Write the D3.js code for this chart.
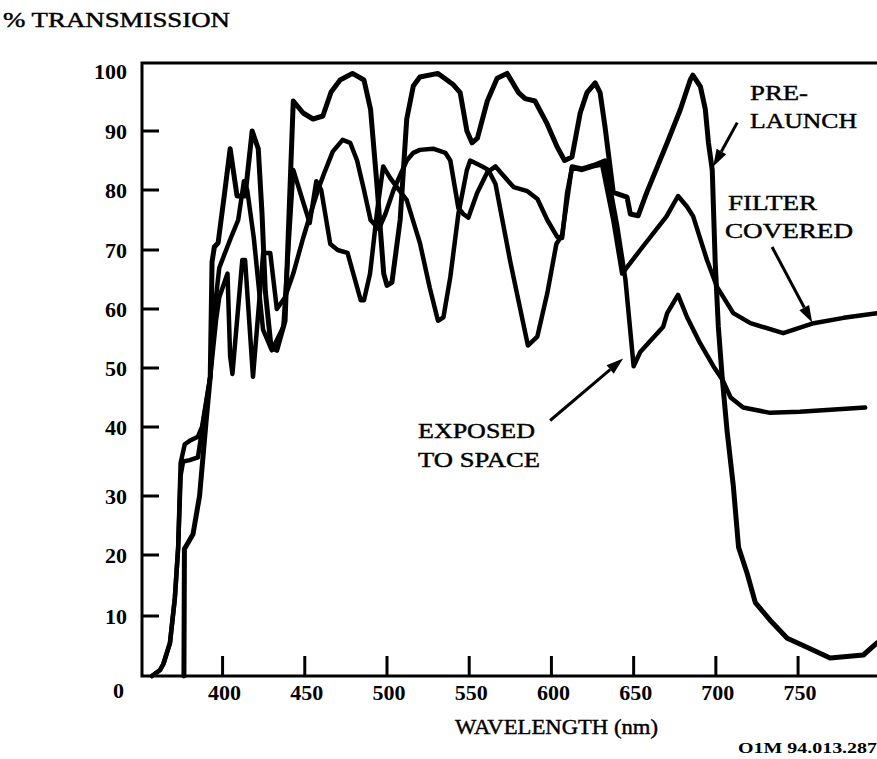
<!DOCTYPE html>
<html lang="en">
<head>
    <meta charset="UTF-8">
    <title>% Transmission vs Wavelength</title>
    <style>
        body { margin: 0; background: #fff; }
        svg { display: block; }
        text {
            font-family: "Liberation Serif", "Times New Roman", serif;
            fill: #000;
        }
        .tick-label { font-size: 22px; font-weight: bold; }
        .lbl { stroke: #000; stroke-width: 0.45px; }
        .curve {
            fill: none;
            stroke: #000;
            stroke-linejoin: round;
            stroke-linecap: round;
        }
    </style>
</head>
<body>
    <svg width="877" height="759"></svg>
    <script src="https://d3js.org/d3.v7.min.js"></script>
    <script>
        // [wavelength nm, % transmission]
        var preLaunch = [
            [376.5, 0], [376.8, 21], [382, 23.5], [386, 30], [390, 41], [392.5, 48.5], [393.6, 68],
            [395, 70.5], [397.3, 71.2], [401, 79], [404.6, 87], [408.8, 79], [413.7, 79], [418, 90],
            [421.7, 87], [424, 76], [426, 63], [429.5, 53.5], [433, 53], [438, 58], [443, 95],
            [449, 93], [455, 92], [461, 92.5], [466, 96.5], [471.5, 98.5], [479, 99.6], [486, 98.5],
            [490, 93.6], [494, 80.5], [498, 66], [500, 64], [503, 64.5], [508, 75], [512, 92],
            [516, 97.5], [520, 99], [531, 99.6], [540, 97.8], [544.5, 96.4], [548.6, 90], [551.7, 88],
            [555, 88.8], [561, 95], [567, 98.8], [573, 99.6], [580, 96.4], [584, 95.4], [590, 95],
            [597, 91.4], [603.5, 87.3], [608, 85], [612.5, 85.6], [617.5, 93], [621.6, 96.4],
            [626.6, 98], [629.6, 96.4], [632.6, 90.7], [637.6, 79.6], [646, 78.8], [648, 76],
            [652.7, 75.7], [658, 79.6], [670.4, 88], [678.3, 93.5], [684.4, 98.5], [686, 99.3],
            [690.6, 97.4], [693.6, 93.6], [695.5, 88], [697.8, 83.4], [699.6, 68], [701.5, 57],
            [703.8, 48.6], [706.8, 39.5], [710.6, 31.5], [713.8, 21.3], [719, 17], [724, 12.2],
            [733, 9.3], [743.4, 6.3], [755.4, 4.8], [769.5, 3], [789.7, 3.5], [798, 5.5]
        ];

        var filterCovered = [
            [357, 0], [362, 1], [364, 2], [368, 5.5], [371, 13], [373, 21.3], [374.5, 34.8],
            [377, 37.5], [380, 38], [385, 38.6], [387.5, 40], [392.5, 48.5], [396, 58], [398, 62],
            [403, 66], [404.6, 52], [406, 49], [412, 68.3], [413.7, 68.3], [418.5, 48.5],
            [424.7, 69.5], [429, 69.5], [433, 60], [438, 62], [443, 66], [449, 72], [454, 76.5],
            [458, 80], [462, 83], [467, 86.5], [473, 88.5], [477.6, 88], [481.8, 85], [486, 80],
            [490, 75], [495, 73.5], [499, 76], [504, 80], [508, 82.5], [512, 85], [516, 86.3],
            [520, 86.8], [528, 87], [535.5, 86.3], [538.5, 85], [543.4, 77], [546.4, 76],
            [549.5, 75.4], [554.8, 79.5], [561, 83], [566, 84], [569, 83], [577, 80.5],
            [585.4, 79.8], [591.5, 78.5], [597.5, 75], [603.5, 72.2], [606.5, 72], [609.5, 79.5],
            [612.5, 83.8], [618.6, 83.4], [625.4, 84], [630.8, 84.3], [637.6, 75], [643, 66],
            [654, 70], [670, 75.6], [677, 79], [682.5, 77.2], [686.2, 75.6], [694.6, 68.3],
            [700.6, 63.8], [710.6, 59.3], [721, 57.6], [741, 55.9], [759.5, 57.6], [777.7, 58.5],
            [798, 59.3]
        ];

        var exposedToSpace = [
            [357, 0], [362, 1], [364, 2], [368, 5.5], [371, 13], [373, 21.3], [374.5, 33],
            [376, 35], [380, 35.2], [385, 35.6], [387.5, 39.5], [392.5, 48.5], [396, 62], [398, 67],
            [405, 72], [409.5, 75], [413, 81.5], [415, 80], [419, 72], [424.6, 56.5], [430, 53],
            [437, 57], [443, 83.4], [449, 78], [453, 74.5], [457, 81.5], [460, 80], [465.5, 71],
            [470, 70], [476, 69.5], [484, 61.5], [486, 61.5], [489.7, 66], [494, 76.5],
            [497.7, 84], [502, 82], [506, 80.5], [512, 78.3], [520, 71.2], [526, 63.6], [531, 58],
            [534.3, 58.6], [538.5, 65.4], [543.4, 76], [548.6, 83.4], [550.6, 85], [557.9, 84],
            [561.6, 83.4], [566, 81], [575, 68], [585.7, 53.8], [591.4, 55.3], [597.5, 62.7],
            [603, 71], [606.5, 72.5], [612.5, 84], [618.6, 83.6], [625.4, 84.2], [632.6, 85],
            [640, 74], [645, 65], [650, 50.3], [654, 52.7], [668, 57], [670.4, 59.3], [677, 62.4],
            [682.5, 58.6], [690.4, 54.2], [698.5, 50.3], [704, 48], [709, 45], [716.6, 43.3],
            [733, 42.4], [751, 42.6], [790.8, 43.3]
        ];

        var yTicks = [0, 10, 20, 30, 40, 50, 60, 70, 80, 90, 100];
        var xTicks = [400, 450, 500, 550, 600, 650, 700, 750];

        // arrows: [from wl, from %, to wl, to %]
        var arrows = [
            [713, 91.4, 698.4, 84],
            [734.2, 70.5, 758.6, 57.7],
            [599.2, 41.1, 643.6, 51.6]
        ];

        var svg = d3.select("svg");

        var plotLeft = 142, plotRight = 877, plotTop = 63, plotBottom = 676;

        var x = d3.scaleLinear().domain([351, 798]).range([plotLeft, plotRight]);
        // the drawn axis is not evenly spaced (30-40 gap is wider), so map tick by tick
        var y = d3.scaleLinear()
            .domain(yTicks)
            .range([676, 616, 555, 496, 427, 368, 309, 250, 190, 131, 71]);

        // frame
        svg.append("path")
            .attr("d", "M" + plotRight + "," + plotTop + "H" + plotLeft + "V" + plotBottom + "H" + plotRight)
            .attr("fill", "none")
            .attr("stroke", "#000")
            .attr("stroke-width", 3);

        // y ticks (inward)
        svg.selectAll(".ytick")
            .data(yTicks.filter(function (d) { return d > 0 && d < 100; }))
            .enter().append("line")
            .attr("x1", plotLeft).attr("x2", plotLeft + 17)
            .attr("y1", function (d) { return y(d); })
            .attr("y2", function (d) { return y(d); })
            .attr("stroke", "#000").attr("stroke-width", 3);

        svg.selectAll(".ylab")
            .data(yTicks)
            .enter().append("text")
            .attr("class", "tick-label")
            .attr("text-anchor", "end")
            .attr("x", function (d) { return d === 0 ? 124 : 127; })
            .attr("y", function (d) { return d === 0 ? 698 : y(d) + 8; })
            .text(function (d) { return d; });

        // x ticks (inward)
        svg.selectAll(".xtick")
            .data(xTicks)
            .enter().append("line")
            .attr("x1", function (d) { return x(d); })
            .attr("x2", function (d) { return x(d); })
            .attr("y1", plotBottom).attr("y2", plotBottom - 20)
            .attr("stroke", "#000").attr("stroke-width", 3);

        svg.selectAll(".xlab")
            .data(xTicks)
            .enter().append("text")
            .attr("class", "tick-label")
            .attr("text-anchor", "middle")
            .attr("x", function (d) { return x(d) + 2; })
            .attr("y", 700)
            .text(function (d) { return d; });

        // curves
        var line = d3.line()
            .x(function (d) { return x(d[0]); })
            .y(function (d) { return y(d[1]); });

        [[filterCovered, 4.5], [exposedToSpace, 4.5], [preLaunch, 5]].forEach(function (s) {
            svg.append("path")
                .datum(s[0])
                .attr("class", "curve")
                .attr("stroke-width", s[1])
                .attr("d", line);
        });

        // arrows
        arrows.forEach(function (a) {
            var x1 = x(a[0]), y1 = y(a[1]), x2 = x(a[2]), y2 = y(a[3]);
            var ang = Math.atan2(y2 - y1, x2 - x1);
            var len = 17, w = 5.5;
            var bx = x2 - len * Math.cos(ang), by = y2 - len * Math.sin(ang);
            svg.append("line")
                .attr("x1", x1).attr("y1", y1).attr("x2", bx).attr("y2", by)
                .attr("stroke", "#000").attr("stroke-width", 3);
            svg.append("path")
                .attr("d", "M" + x2 + "," + y2 +
                    "L" + (bx + w * Math.sin(ang)) + "," + (by - w * Math.cos(ang)) +
                    "L" + (bx - w * Math.sin(ang)) + "," + (by + w * Math.cos(ang)) + "Z")
                .attr("fill", "#000");
        });

        // texts
        var labels = [
            { t: "% TRANSMISSION", x: 3, y: 27, len: 227, size: 22 },
            { t: "PRE-", x: 750, y: 100, len: 58, size: 22 },
            { t: "LAUNCH", x: 750, y: 128, len: 107, size: 22 },
            { t: "FILTER", x: 728, y: 210, len: 89, size: 22 },
            { t: "COVERED", x: 725, y: 238, len: 128, size: 22 },
            { t: "EXPOSED", x: 418, y: 438, len: 117, size: 22 },
            { t: "TO SPACE", x: 418, y: 467, len: 122, size: 22 },
            { t: "WAVELENGTH (nm)", x: 455, y: 734, len: 203, size: 22 }
        ];

        svg.selectAll(".lbl")
            .data(labels)
            .enter().append("text")
            .attr("class", "lbl")
            .attr("x", function (d) { return d.x; })
            .attr("y", function (d) { return d.y; })
            .attr("textLength", function (d) { return d.len; })
            .attr("lengthAdjust", "spacingAndGlyphs")
            .style("font-size", function (d) { return d.size + "px"; })
            .text(function (d) { return d.t; });

        svg.append("text")
            .attr("x", 738).attr("y", 753)
            .attr("textLength", 139)
            .attr("lengthAdjust", "spacingAndGlyphs")
            .style("font-size", "15px")
            .style("font-weight", "bold")
            .text("O1M 94.013.287");
    </script>
</body>
</html>
